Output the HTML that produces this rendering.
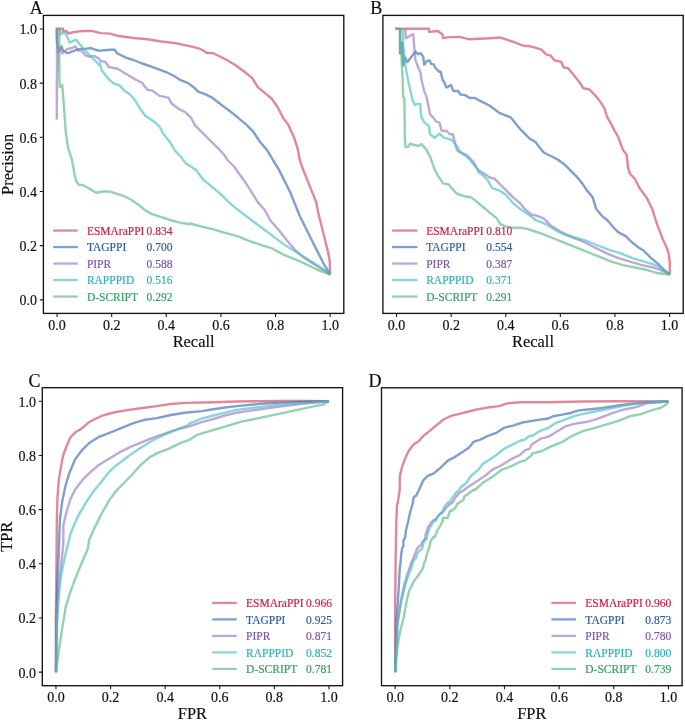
<!DOCTYPE html><html><head><meta charset="utf-8"><style>html,body{margin:0;padding:0;background:#fff;}svg{display:block;will-change:transform;}text{font-family:"Liberation Serif",serif;stroke:currentColor;stroke-width:0.18px;}</style></head><body>
<svg width="685" height="721" viewBox="0 0 685 721">
<rect x="0" y="0" width="685" height="721" fill="#fff"/>
<g fill="none" stroke-width="2.4" stroke-linejoin="round" stroke-linecap="butt">
<path d="M56.13 28.76 L63.14 28.76 L63.14 31.39 L66.64 30.95 L68.39 33.58 L72.77 32.26 L78.91 31.39 L85.04 30.95 L92.04 30.95 L95.55 31.82 L100.8 33.14 L110 33.58 L117.08 35.69 L133.43 38.03 L147.45 39.2 L161.46 41.53 L175.47 43.17 L189.49 46.2 L190 46.2 L199.34 48.54 L204.01 50.88 L206.35 52.74 L213.36 53.21 L220.36 56.72 L227.37 60.22 L236.72 66.06 L246.06 73.07 L251.9 77.74 L257.74 87.08 L264.74 92.92 L271.75 98.76 L277.59 106.93 L283.43 118.61 L288.1 124.45 L293.94 137.3 L297.45 147.81 L299.78 160 L302.12 167.01 L306.79 178.69 L311.46 190.36 L316.13 202.04 L318.47 213.72 L321.97 227.74 L325.47 241.75 L327.81 251.09 L329.68 260.44 L330.15 274.45" stroke="#cf4864" stroke-opacity="0.65"/>
<path d="M56.57 28.76 L57.01 41.9 L58.32 52.41 L61.39 46.28 L63.14 50.66 L67.52 53.28 L71.9 51.53 L76.28 49.78 L80.66 48.91 L85.04 48.91 L91.17 48.03 L95.55 49.78 L99.05 50.66 L104.31 50.22 L110 49.78 L114.74 49.71 L117.08 53.21 L126.42 57.88 L133.28 60 L142.04 63.5 L152.55 67.01 L159.56 69.64 L166.57 72.26 L173.58 75.77 L180.58 80.15 L187.59 82.77 L194.6 88.03 L198.1 91.53 L205.11 94.16 L212.12 97.66 L220 103.8 L225.04 107.64 L232.04 112.77 L239.05 118.61 L246.06 124.45 L253.07 131.46 L260.07 141.97 L267.08 150.15 L272.92 160 L278.76 169.34 L284.6 181.02 L290.44 192.7 L295.11 204.38 L299.78 216.06 L305.62 227.74 L311.46 239.42 L317.3 251.09 L323.14 262.77 L330.15 274.45" stroke="#3a6bb2" stroke-opacity="0.65"/>
<path d="M57.01 28.76 L57.01 80 L56.82 118.61 L56.82 80.07 L58.69 47.37 L62.26 53.28 L67.52 48.91 L71.9 48.03 L75.4 46.28 L78.03 50.66 L81.53 50.66 L85.04 55.04 L89.42 56.79 L93.8 55.91 L99.05 58.54 L100 60.88 L105.26 61.75 L108.76 67.01 L117.52 68.76 L126.28 74.01 L135.04 79.27 L142.04 82.77 L147.3 89.78 L152.55 90.66 L159.56 95.91 L168.32 97.66 L171.82 103.8 L178.83 109.05 L185.84 112.55 L191.09 117.81 L194.6 124.82 L199.85 130.07 L205.11 135.33 L210.36 140.58 L215.62 145.84 L220 150.22 L225.04 155.99 L227.37 160 L234.38 167.01 L240.22 175.18 L246.06 183.36 L251.9 192.7 L257.74 202.04 L264.74 210.22 L270.58 220.73 L278.76 230.07 L286.93 240.58 L295.11 249.93 L304.45 258.1 L313.8 263.94 L323.14 269.78 L330.15 274.45" stroke="#9b7bc0" stroke-opacity="0.65"/>
<path d="M59.64 28.76 L60.51 34.45 L63.14 32.7 L65.33 33.14 L67.52 37.52 L69.71 42.77 L72.77 41.02 L76.28 39.71 L78.91 43.65 L80.66 44.96 L83.28 48.91 L86.79 52.41 L90.29 55.91 L93.8 59.42 L97.3 62.92 L99.93 65.55 L100 63.5 L101.75 70.51 L108.76 79.27 L114.01 83.65 L119.27 85.4 L124.53 90.66 L129.78 94.16 L135.04 100.29 L140.29 109.05 L145.55 116.06 L152.55 120.44 L159.56 126.57 L163.07 133.58 L170.07 142.34 L175.33 151.09 L180.58 156.35 L185.84 163.36 L191.09 166.86 L196.35 170.36 L203.36 180 L206.35 182.19 L213.36 188.03 L220.36 193.87 L227.37 200.88 L236.72 209.05 L246.06 216.06 L255.4 223.07 L264.74 230.07 L274.09 237.08 L283.43 244.09 L292.77 249.93 L302.12 255.77 L311.46 261.61 L320.8 267.45 L330.15 274.45" stroke="#48c0c3" stroke-opacity="0.65"/>
<path d="M56.13 28.76 L59.2 28.76 L59.2 55.04 L59.46 80 L59.85 87.08 L62.19 84.74 L63.36 98.76 L65.69 131.46 L68.03 147.81 L71.53 158.32 L73.87 170 L73.87 171.68 L76.2 181.02 L78.54 184.53 L84.38 185.69 L90.22 189.2 L96.06 192.7 L103.07 191.53 L110.07 191.53 L117.08 193.87 L124.09 196.2 L131.09 199.71 L138.1 204.38 L145.11 210.22 L152.12 214.19 L161.46 217.23 L170.8 220.26 L180.15 222.6 L189.49 224.23 L190 223.53 L201.68 226.57 L213.36 229.37 L225.04 232.88 L236.72 235.91 L248.39 240.58 L260.07 244.55 L271.75 248.29 L283.43 254.6 L295.11 259.27 L306.79 264.64 L318.47 270.25 L330.15 274.45" stroke="#5aba82" stroke-opacity="0.65"/>
</g>
<rect x="43.4" y="15.4" width="300.4" height="298" fill="none" stroke="#131313" stroke-width="1.35"/>
<path d="M57.05 313.4 V317 M43.4 299.85 H39.8 M111.67 313.4 V317 M43.4 245.67 H39.8 M166.29 313.4 V317 M43.4 191.49 H39.8 M220.91 313.4 V317 M43.4 137.31 H39.8 M275.53 313.4 V317 M43.4 83.13 H39.8 M330.15 313.4 V317 M43.4 28.95 H39.8" stroke="#1c1c1c" stroke-width="1.1" fill="none"/>
<text x="57.05" y="329.7" font-size="14" text-anchor="middle" fill="#111" color="#111">0.0</text>
<text x="37.1" y="305.35" font-size="14" text-anchor="end" fill="#111" color="#111">0.0</text>
<text x="111.67" y="329.7" font-size="14" text-anchor="middle" fill="#111" color="#111">0.2</text>
<text x="37.1" y="251.17" font-size="14" text-anchor="end" fill="#111" color="#111">0.2</text>
<text x="166.29" y="329.7" font-size="14" text-anchor="middle" fill="#111" color="#111">0.4</text>
<text x="37.1" y="196.99" font-size="14" text-anchor="end" fill="#111" color="#111">0.4</text>
<text x="220.91" y="329.7" font-size="14" text-anchor="middle" fill="#111" color="#111">0.6</text>
<text x="37.1" y="142.81" font-size="14" text-anchor="end" fill="#111" color="#111">0.6</text>
<text x="275.53" y="329.7" font-size="14" text-anchor="middle" fill="#111" color="#111">0.8</text>
<text x="37.1" y="88.63" font-size="14" text-anchor="end" fill="#111" color="#111">0.8</text>
<text x="330.15" y="329.7" font-size="14" text-anchor="middle" fill="#111" color="#111">1.0</text>
<text x="37.1" y="34.45" font-size="14" text-anchor="end" fill="#111" color="#111">1.0</text>
<text x="193.6" y="346.6" font-size="16.4" text-anchor="middle" fill="#111" color="#111">Recall</text>
<text transform="translate(13.4 164.4) rotate(-90)" x="0" y="0" font-size="16.4" text-anchor="middle" fill="#111" color="#111">Precision</text>
<text x="29.8" y="13.6" font-size="18" fill="#111" color="#111">A</text>
<path d="M53.2 230.55 H77.7" stroke="#cf4864" stroke-opacity="0.65" stroke-width="2.3"/>
<text x="86.9" y="234.75" font-size="11.5" fill="#d31a42" color="#d31a42">ESMAraPPI</text>
<text x="146.6" y="234.75" font-size="11.5" fill="#d31a42" color="#d31a42">0.834</text>
<path d="M53.2 247.05 H77.7" stroke="#3a6bb2" stroke-opacity="0.65" stroke-width="2.3"/>
<text x="86.9" y="251.25" font-size="11.5" fill="#2a58a8" color="#2a58a8">TAGPPI</text>
<text x="146.6" y="251.25" font-size="11.5" fill="#2a58a8" color="#2a58a8">0.700</text>
<path d="M53.2 263.55 H77.7" stroke="#9b7bc0" stroke-opacity="0.65" stroke-width="2.3"/>
<text x="86.9" y="267.75" font-size="11.5" fill="#7b54ab" color="#7b54ab">PIPR</text>
<text x="146.6" y="267.75" font-size="11.5" fill="#7b54ab" color="#7b54ab">0.588</text>
<path d="M53.2 280.05 H77.7" stroke="#48c0c3" stroke-opacity="0.65" stroke-width="2.3"/>
<text x="86.9" y="284.25" font-size="11.5" fill="#2ab1ba" color="#2ab1ba">RAPPPID</text>
<text x="146.6" y="284.25" font-size="11.5" fill="#2ab1ba" color="#2ab1ba">0.516</text>
<path d="M53.2 296.55 H77.7" stroke="#5aba82" stroke-opacity="0.65" stroke-width="2.3"/>
<text x="86.9" y="300.75" font-size="11.5" fill="#30a062" color="#30a062">D-SCRIPT</text>
<text x="146.6" y="300.75" font-size="11.5" fill="#30a062" color="#30a062">0.292</text>
<g fill="none" stroke-width="2.4" stroke-linejoin="round" stroke-linecap="butt">
<path d="M395.26 28.76 L428.98 28.76 L428.98 31.82 L438.18 30.95 L439.05 32.26 L440.8 33.14 L442.55 34.45 L442.99 37.96 L450 37.08 L459.42 36.86 L468.76 39.2 L485.11 38.5 L500.29 37.56 L507.3 39.9 L515.47 42.7 L522.48 45.5 L529.49 46.2 L534.34 47.37 L541.35 49.71 L546.02 54.38 L550.69 55.55 L554.2 60.22 L561.2 61.85 L563.54 67.23 L568.21 68.39 L574.05 75.4 L578.72 81.24 L583.39 88.25 L589.23 89.42 L595.07 95.26 L599.74 101.09 L604.42 108.1 L606.75 116.28 L611.42 124.45 L614.93 131.46 L618.43 137.3 L620.77 144.31 L623.1 150.15 L626.61 154.82 L627.77 164.16 L627.77 167.01 L630.11 174.01 L634.78 178.69 L639.45 188.03 L646.46 197.37 L652.3 209.05 L655.8 220.73 L659.31 230.07 L662.81 239.42 L666.31 246.42 L668.65 253.43 L669.82 262.77 L669.82 274.45" stroke="#cf4864" stroke-opacity="0.65"/>
<path d="M400.07 28.76 L400.07 53.28 L402.26 42.77 L403.14 65.55 L404.89 57.66 L407.52 62.04 L410.15 58.54 L412.77 55.04 L415.4 51.53 L418.03 54.16 L420.66 53.28 L423.28 56.79 L424.16 64.67 L426.79 61.17 L429.42 60.29 L431.17 63.8 L433.8 64.67 L435.55 68.18 L439.05 71.68 L440.8 71.68 L442.55 80 L444.05 81.68 L446.39 87.52 L451.06 85.18 L453.39 91.02 L458.07 91.02 L460.4 94.53 L465.07 95.11 L469.74 98.03 L473.25 98.03 L475 98.03 L478.1 99.93 L489.78 105.77 L499.12 112.77 L510.8 117.45 L520.15 129.12 L529.49 138.47 L535.51 141.97 L539.01 146.64 L543.69 152.48 L550.69 155.99 L557.7 159.49 L562.37 162.99 L564.71 164.67 L571.72 171.68 L576.39 176.35 L582.23 183.36 L586.9 190.36 L592.74 197.37 L596.24 209.05 L602.08 216.06 L607.92 220.73 L613.76 227.74 L618.43 232.41 L625.44 235.91 L631.28 241.75 L637.12 246.42 L644.12 251.09 L651.13 258.1 L658.14 263.94 L663.98 269.78 L669.82 274.45" stroke="#3a6bb2" stroke-opacity="0.65"/>
<path d="M405.33 28.76 L405.77 38.39 L413.21 34.01 L414.53 49.78 L415.4 60.29 L418.91 69.05 L420.66 72.55 L421.53 80 L424.2 91.02 L426.53 96.86 L428.28 105.04 L430.04 114.38 L433.54 117.88 L435.88 121.39 L439.38 122.55 L441.72 130.73 L446.39 130.73 L449.89 134.23 L452.81 134.23 L454.56 141.24 L456.9 150 L458.25 151.31 L466.42 154.82 L473.43 161.82 L478.1 170 L482.77 172.85 L489.78 177.52 L494.45 178.69 L499.12 183.36 L506.13 190.36 L513.14 197.37 L520.15 203.21 L524.82 209.05 L531.82 214.89 L534.34 214.89 L543.69 218.39 L550.69 225.4 L560.04 231.24 L571.72 237.08 L583.39 241.75 L595.07 247.59 L606.75 253.43 L618.43 258.1 L630.11 261.61 L641.79 265.11 L653.47 267.45 L662.81 270.95 L669.82 274.45" stroke="#9b7bc0" stroke-opacity="0.65"/>
<path d="M402.7 28.76 L403.14 44.53 L404.45 55.04 L405.33 65.55 L406.64 72.55 L407.96 80 L410.18 89.85 L412.52 100.36 L414.85 105.04 L417.19 103.87 L420.11 103.87 L421.28 116.72 L424.2 122.55 L428.87 126.06 L430.04 134.23 L434.71 137.74 L439.38 133.65 L444.05 137.74 L448.72 138.91 L452.23 140.07 L455.73 144.74 L459.23 150 L460.58 152.48 L467.59 157.15 L473.43 164.16 L478.1 170 L478.1 171.68 L482.77 175.18 L487.45 179.85 L492.12 188.03 L499.12 190.36 L506.13 195.04 L513.14 203.21 L520.15 209.05 L527.15 213.72 L534.16 218.39 L534.34 219.56 L546.02 224.23 L555.36 230.07 L564.71 234.74 L574.05 237.08 L585.73 240.58 L597.41 245.26 L609.09 249.93 L620.77 253.43 L632.45 258.1 L644.12 261.61 L655.8 265.11 L662.81 269.78 L669.82 274.45" stroke="#48c0c3" stroke-opacity="0.65"/>
<path d="M395.26 28.76 L400.07 28.76 L400.07 53.28 L401.39 55.04 L402.26 72.55 L402.7 80 L403.18 96.86 L404.34 98.03 L404.93 140.07 L405.51 147.08 L407.85 147.08 L410.18 143.58 L413.69 144.74 L418.36 145.91 L421.28 144.16 L424.2 147.08 L426.53 150 L430.22 157.15 L434.89 170 L438.39 176.35 L443.07 183.36 L448.91 184.53 L452.41 189.2 L457.08 193.87 L464.09 196.2 L471.09 197.37 L475.77 200.88 L482.77 206.72 L489.78 212.55 L496.79 218.39 L500.29 224.23 L506.13 226.57 L513.14 227.74 L520.15 227.74 L527.15 228.91 L534.16 231.24 L534.34 231.24 L543.69 234.28 L553.03 238.25 L564.71 242.92 L576.39 247.59 L588.07 252.26 L599.74 256.93 L611.42 261.61 L623.1 265.11 L634.78 267.45 L646.46 269.78 L658.14 273.28 L669.82 274.45" stroke="#5aba82" stroke-opacity="0.65"/>
</g>
<rect x="382.9" y="15.4" width="300.3" height="298" fill="none" stroke="#131313" stroke-width="1.35"/>
<path d="M396.55 313.4 V317 M451.15 313.4 V317 M505.75 313.4 V317 M560.35 313.4 V317 M614.95 313.4 V317 M669.55 313.4 V317" stroke="#1c1c1c" stroke-width="1.1" fill="none"/>
<text x="396.55" y="329.7" font-size="14" text-anchor="middle" fill="#111" color="#111">0.0</text>
<text x="451.15" y="329.7" font-size="14" text-anchor="middle" fill="#111" color="#111">0.2</text>
<text x="505.75" y="329.7" font-size="14" text-anchor="middle" fill="#111" color="#111">0.4</text>
<text x="560.35" y="329.7" font-size="14" text-anchor="middle" fill="#111" color="#111">0.6</text>
<text x="614.95" y="329.7" font-size="14" text-anchor="middle" fill="#111" color="#111">0.8</text>
<text x="669.55" y="329.7" font-size="14" text-anchor="middle" fill="#111" color="#111">1.0</text>
<text x="533.05" y="346.6" font-size="16.4" text-anchor="middle" fill="#111" color="#111">Recall</text>
<text x="370.3" y="13.6" font-size="18" fill="#111" color="#111">B</text>
<path d="M392.1 230.55 H417.4" stroke="#cf4864" stroke-opacity="0.65" stroke-width="2.3"/>
<text x="426.2" y="234.75" font-size="11.5" fill="#d31a42" color="#d31a42">ESMAraPPI</text>
<text x="486.3" y="234.75" font-size="11.5" fill="#d31a42" color="#d31a42">0.810</text>
<path d="M392.1 247.05 H417.4" stroke="#3a6bb2" stroke-opacity="0.65" stroke-width="2.3"/>
<text x="426.2" y="251.25" font-size="11.5" fill="#2a58a8" color="#2a58a8">TAGPPI</text>
<text x="486.3" y="251.25" font-size="11.5" fill="#2a58a8" color="#2a58a8">0.554</text>
<path d="M392.1 263.55 H417.4" stroke="#9b7bc0" stroke-opacity="0.65" stroke-width="2.3"/>
<text x="426.2" y="267.75" font-size="11.5" fill="#7b54ab" color="#7b54ab">PIPR</text>
<text x="486.3" y="267.75" font-size="11.5" fill="#7b54ab" color="#7b54ab">0.387</text>
<path d="M392.1 280.05 H417.4" stroke="#48c0c3" stroke-opacity="0.65" stroke-width="2.3"/>
<text x="426.2" y="284.25" font-size="11.5" fill="#2ab1ba" color="#2ab1ba">RAPPPID</text>
<text x="486.3" y="284.25" font-size="11.5" fill="#2ab1ba" color="#2ab1ba">0.371</text>
<path d="M392.1 296.55 H417.4" stroke="#5aba82" stroke-opacity="0.65" stroke-width="2.3"/>
<text x="426.2" y="300.75" font-size="11.5" fill="#30a062" color="#30a062">D-SCRIPT</text>
<text x="486.3" y="300.75" font-size="11.5" fill="#30a062" color="#30a062">0.291</text>
<g fill="none" stroke-width="2.4" stroke-linejoin="round" stroke-linecap="butt">
<path d="M55.95 672.15 L55.88 623.43 L56.35 576.72 L56.82 520.15 L57.52 496.79 L58.69 480.44 L61.02 466.42 L63.36 454.74 L66.86 445.4 L70.36 437.23 L75.04 432.55 L80.88 429.05 L89.05 422.04 L100.73 416.2 L114.74 412.23 L128.76 409.9 L142.77 408.03 L156.79 406.16 L170.8 404.06 L184.82 402.89 L213.36 402.19 L236.72 401.49 L260.07 401.26 L283.43 401.02 L306.79 401.02 L328.95 401.25" stroke="#cf4864" stroke-opacity="0.65"/>
<path d="M55.95 672.15 L56.35 623.43 L57.52 576.72 L58.69 553.36 L59.85 520.15 L62.19 501.46 L65.69 485.11 L69.2 473.43 L75.04 459.42 L82.04 450.07 L89.05 443.07 L98.39 437.23 L110.07 432.55 L121.75 427.88 L133.43 423.21 L145.11 419.71 L156.79 418.07 L170.8 415.04 L184.82 412.7 L201.68 411.07 L213.36 409.2 L225.04 407.56 L236.72 406.16 L260.07 403.82 L283.43 402.66 L306.79 401.72 L328.95 401.25" stroke="#3a6bb2" stroke-opacity="0.65"/>
<path d="M55.95 672.15 L56.82 623.43 L58.69 588.39 L61.02 565.04 L63.36 544.01 L63.36 524.82 L66.86 510.8 L70.36 499.12 L75.04 489.78 L82.04 480.44 L89.05 473.43 L98.39 465.26 L107.74 459.42 L119.42 452.41 L131.09 446.57 L142.77 441.9 L154.45 437.23 L166.13 433.26 L177.81 429.05 L189.49 426.25 L201.68 422.04 L213.36 419.01 L225.04 415.5 L236.72 412.7 L260.07 409.2 L283.43 406.16 L306.79 403.36 L328.95 401.25" stroke="#9b7bc0" stroke-opacity="0.65"/>
<path d="M55.95 672.15 L57.52 611.75 L59.85 583.72 L62.19 569.71 L65.69 553.36 L69.2 539.34 L70.36 534.16 L75.04 522.48 L79.71 513.14 L86.72 501.46 L93.72 490.95 L100.73 482.77 L107.74 473.43 L114.74 466.42 L124.09 459.42 L133.43 452.41 L142.77 446.57 L152.12 440.73 L163.8 434.89 L175.47 430.22 L187.15 425.55 L190 423.21 L201.68 418.54 L213.36 415.5 L225.04 412.7 L236.72 409.9 L260.07 406.86 L283.43 404.53 L306.79 402.89 L328.95 401.25" stroke="#48c0c3" stroke-opacity="0.65"/>
<path d="M55.95 672.15 L58.69 651.46 L62.19 628.1 L65.69 607.08 L69.2 595.4 L75.04 579.05 L80.88 565.04 L87.88 548.69 L89.05 540 L93.72 529.49 L98.39 520.15 L103.07 510.8 L110.07 499.12 L117.08 489.78 L124.09 482.77 L131.09 475.77 L140.44 465.26 L149.78 457.08 L159.12 452.41 L168.47 448.91 L180.15 443.07 L190 439.56 L197.01 434.89 L208.69 431.39 L225.04 426.72 L241.39 421.58 L260.07 417.84 L278.76 413.87 L295.11 410.36 L311.46 406.86 L323.14 404.53 L328.95 401.25" stroke="#5aba82" stroke-opacity="0.65"/>
</g>
<rect x="42.3" y="387.7" width="300.3" height="298" fill="none" stroke="#131313" stroke-width="1.35"/>
<path d="M55.95 685.7 V689.3 M42.3 672.15 H38.7 M110.55 685.7 V689.3 M42.3 617.97 H38.7 M165.15 685.7 V689.3 M42.3 563.79 H38.7 M219.75 685.7 V689.3 M42.3 509.61 H38.7 M274.35 685.7 V689.3 M42.3 455.43 H38.7 M328.95 685.7 V689.3 M42.3 401.25 H38.7" stroke="#1c1c1c" stroke-width="1.1" fill="none"/>
<text x="55.95" y="702" font-size="14" text-anchor="middle" fill="#111" color="#111">0.0</text>
<text x="36" y="677.65" font-size="14" text-anchor="end" fill="#111" color="#111">0.0</text>
<text x="110.55" y="702" font-size="14" text-anchor="middle" fill="#111" color="#111">0.2</text>
<text x="36" y="623.47" font-size="14" text-anchor="end" fill="#111" color="#111">0.2</text>
<text x="165.15" y="702" font-size="14" text-anchor="middle" fill="#111" color="#111">0.4</text>
<text x="36" y="569.29" font-size="14" text-anchor="end" fill="#111" color="#111">0.4</text>
<text x="219.75" y="702" font-size="14" text-anchor="middle" fill="#111" color="#111">0.6</text>
<text x="36" y="515.11" font-size="14" text-anchor="end" fill="#111" color="#111">0.6</text>
<text x="274.35" y="702" font-size="14" text-anchor="middle" fill="#111" color="#111">0.8</text>
<text x="36" y="460.93" font-size="14" text-anchor="end" fill="#111" color="#111">0.8</text>
<text x="328.95" y="702" font-size="14" text-anchor="middle" fill="#111" color="#111">1.0</text>
<text x="36" y="406.75" font-size="14" text-anchor="end" fill="#111" color="#111">1.0</text>
<text x="192.45" y="718.9" font-size="16.4" text-anchor="middle" fill="#111" color="#111">FPR</text>
<text transform="translate(12.3 536.7) rotate(-90)" x="0" y="0" font-size="16.4" text-anchor="middle" fill="#111" color="#111">TPR</text>
<text x="28.6" y="386.6" font-size="18" fill="#111" color="#111">C</text>
<path d="M212.2 602.9 H236.7" stroke="#cf4864" stroke-opacity="0.65" stroke-width="2.3"/>
<text x="246.1" y="607.1" font-size="11.5" fill="#d31a42" color="#d31a42">ESMAraPPI</text>
<text x="306.1" y="607.1" font-size="11.5" fill="#d31a42" color="#d31a42">0.966</text>
<path d="M212.2 619.4 H236.7" stroke="#3a6bb2" stroke-opacity="0.65" stroke-width="2.3"/>
<text x="246.1" y="623.6" font-size="11.5" fill="#2a58a8" color="#2a58a8">TAGPPI</text>
<text x="306.1" y="623.6" font-size="11.5" fill="#2a58a8" color="#2a58a8">0.925</text>
<path d="M212.2 635.9 H236.7" stroke="#9b7bc0" stroke-opacity="0.65" stroke-width="2.3"/>
<text x="246.1" y="640.1" font-size="11.5" fill="#7b54ab" color="#7b54ab">PIPR</text>
<text x="306.1" y="640.1" font-size="11.5" fill="#7b54ab" color="#7b54ab">0.871</text>
<path d="M212.2 652.4 H236.7" stroke="#48c0c3" stroke-opacity="0.65" stroke-width="2.3"/>
<text x="246.1" y="656.6" font-size="11.5" fill="#2ab1ba" color="#2ab1ba">RAPPPID</text>
<text x="306.1" y="656.6" font-size="11.5" fill="#2ab1ba" color="#2ab1ba">0.852</text>
<path d="M212.2 668.9 H236.7" stroke="#5aba82" stroke-opacity="0.65" stroke-width="2.3"/>
<text x="246.1" y="673.1" font-size="11.5" fill="#30a062" color="#30a062">D-SCRIPT</text>
<text x="306.1" y="673.1" font-size="11.5" fill="#30a062" color="#30a062">0.781</text>
<g fill="none" stroke-width="2.4" stroke-linejoin="round" stroke-linecap="butt">
<path d="M395.16 672.16 L395.18 600.07 L395.58 570 L395.65 553.36 L395.93 548.39 L395.88 540 L396.17 530.88 L396.35 520.15 L396.75 513.36 L396.82 506.13 L397.92 501.68 L399.67 490 L399.85 475.77 L402.19 466.42 L405.69 457.08 L409.2 450.07 L413.87 444.23 L418.54 441.2 L423.21 436.06 L429.05 431.39 L436.06 425.55 L443.07 419.71 L450.07 416.2 L459.42 413.87 L468.76 411.53 L478.1 409.2 L487.45 407.56 L499.12 406.16 L507.3 403.36 L520.15 402.19 L548.36 402.19 L583.39 401.49 L618.43 401.26 L667.95 401.49 L668.44 401.34" stroke="#cf4864" stroke-opacity="0.65"/>
<path d="M395.16 672.16 L396.35 623.43 L398.69 588.39 L399.67 570 L401.02 558.03 L400.84 557.74 L402.01 548.39 L403.36 546.35 L403.36 540 L404.34 539.05 L405.23 537.01 L406.09 529.71 L408.43 520.36 L410.18 512.19 L412.52 504.01 L413.87 496.79 L416.02 495.84 L418.94 490 L423.21 480.44 L427.88 475.77 L433.72 473.43 L440.73 467.59 L447.74 460.58 L454.74 457.08 L461.75 452.41 L468.76 447.74 L473.43 441.9 L480.44 439.56 L487.45 436.06 L496.79 432.55 L503.8 427.88 L513.14 425.55 L522.48 422.51 L531.82 420.88 L536.68 420.18 L548.36 418.54 L553.03 416.2 L562.37 414.57 L571.72 412.7 L578.72 410.36 L590.4 409.2 L602.08 408.03 L613.76 406.16 L625.44 404.53 L637.12 403.36 L648.8 402.19 L667.95 401.49 L668.44 401.34" stroke="#3a6bb2" stroke-opacity="0.65"/>
<path d="M395.16 672.16 L397.52 623.43 L401.02 600.07 L404.53 583.72 L408.03 572.04 L409.01 570 L411.35 562.41 L412.7 560.36 L414.27 555.4 L416.2 551.02 L417.19 548.39 L422.04 544.01 L421.86 542.55 L424.38 540 L425.55 537.01 L425.36 535.55 L427.7 528.54 L427.88 527.15 L431.2 522.7 L433.72 520.15 L435.88 519.2 L440.73 513.14 L441.72 513.36 L446.39 507.52 L450.07 503.8 L452.23 502.85 L455.73 497.01 L457.08 495.62 L458.65 493.5 L463.91 490 L464.09 489.78 L471.09 485.11 L478.1 480.44 L485.11 475.77 L492.12 469.93 L501.46 465.26 L510.8 459.42 L520.15 454.74 L525 450.07 L529.49 448.91 L532.01 444.23 L541.35 438.39 L548.36 436.76 L555.36 432.55 L564.71 426.72 L574.05 423.91 L585.73 422.04 L595.07 419.71 L604.42 416.2 L613.76 412.7 L625.44 409.2 L637.12 406.86 L646.46 403.36 L658.14 402.19 L667.95 401.49 L668.44 401.34" stroke="#9b7bc0" stroke-opacity="0.65"/>
<path d="M395.16 672.16 L397.52 623.43 L401.02 602.41 L405.69 583.72 L410.36 569.71 L410.77 570 L413.69 560.07 L416.2 558.03 L417.19 553.07 L422.04 548.69 L424.2 540.22 L424.38 540 L426.72 539.34 L427.7 533.21 L429.05 529.49 L430.04 527.37 L433.54 521.53 L436.06 520.15 L437.04 516.86 L441.72 512.19 L443.07 510.8 L444.05 507.52 L447.55 502.85 L450.07 501.46 L452.23 498.18 L454.74 494.45 L455.15 493.5 L459.23 490 L460.58 487.45 L466.42 482.77 L471.09 475.77 L478.1 469.93 L482.77 464.09 L489.78 459.42 L496.79 454.74 L503.8 448.91 L510.8 445.4 L520.15 440.73 L525 439.56 L529.49 436.06 L532.01 436.06 L539.01 431.39 L548.36 427.88 L555.36 423.21 L564.71 419.71 L574.05 416.2 L583.39 413.87 L595.07 411.53 L606.75 409.2 L618.43 406.86 L630.11 404.53 L641.79 402.89 L667.95 401.49 L668.44 401.34" stroke="#48c0c3" stroke-opacity="0.65"/>
<path d="M395.16 672.16 L397.52 646.79 L399.85 632.77 L403.36 618.76 L406.86 600.07 L409.2 590.73 L413.87 581.39 L419.71 573.21 L421.86 570 L423.21 567.37 L424.2 562.41 L425.55 560.36 L426.53 555.4 L427.88 551.02 L428.87 548.39 L430.22 544.01 L430.04 542.55 L433.54 536.72 L434.89 537.01 L437.04 530.88 L440.55 525.04 L442.88 520.95 L443.07 517.81 L447.55 518.03 L450.07 510.8 L451.06 511.02 L455.73 507.52 L457.08 503.8 L459.23 502.85 L463.91 499.34 L464.09 496.79 L468.58 493.5 L473.43 489.78 L475 490 L482.77 482.77 L492.12 476.93 L501.46 469.93 L510.8 466.42 L520.15 461.75 L525 460.58 L532.01 454.74 L531.82 453.58 L541.35 451.24 L550.69 446.57 L562.37 441.9 L571.72 436.06 L583.39 430.92 L595.07 427.88 L606.75 424.38 L618.43 420.88 L630.11 416.2 L641.79 413.87 L651.13 410.36 L660.47 408.03 L666.31 404.53 L667.95 401.49 L668.44 401.34" stroke="#5aba82" stroke-opacity="0.65"/>
</g>
<rect x="381.5" y="387.8" width="300.6" height="297.9" fill="none" stroke="#131313" stroke-width="1.35"/>
<path d="M395.16 685.7 V689.3 M449.82 685.7 V689.3 M504.47 685.7 V689.3 M559.13 685.7 V689.3 M613.78 685.7 V689.3 M668.44 685.7 V689.3" stroke="#1c1c1c" stroke-width="1.1" fill="none"/>
<text x="395.16" y="702" font-size="14" text-anchor="middle" fill="#111" color="#111">0.0</text>
<text x="449.82" y="702" font-size="14" text-anchor="middle" fill="#111" color="#111">0.2</text>
<text x="504.47" y="702" font-size="14" text-anchor="middle" fill="#111" color="#111">0.4</text>
<text x="559.13" y="702" font-size="14" text-anchor="middle" fill="#111" color="#111">0.6</text>
<text x="613.78" y="702" font-size="14" text-anchor="middle" fill="#111" color="#111">0.8</text>
<text x="668.44" y="702" font-size="14" text-anchor="middle" fill="#111" color="#111">1.0</text>
<text x="531.8" y="718.9" font-size="16.4" text-anchor="middle" fill="#111" color="#111">FPR</text>
<text x="368.6" y="386.6" font-size="18" fill="#111" color="#111">D</text>
<path d="M551.4 602.9 H575.9" stroke="#cf4864" stroke-opacity="0.65" stroke-width="2.3"/>
<text x="585.3" y="607.1" font-size="11.5" fill="#d31a42" color="#d31a42">ESMAraPPI</text>
<text x="645.3" y="607.1" font-size="11.5" fill="#d31a42" color="#d31a42">0.960</text>
<path d="M551.4 619.4 H575.9" stroke="#3a6bb2" stroke-opacity="0.65" stroke-width="2.3"/>
<text x="585.3" y="623.6" font-size="11.5" fill="#2a58a8" color="#2a58a8">TAGPPI</text>
<text x="645.3" y="623.6" font-size="11.5" fill="#2a58a8" color="#2a58a8">0.873</text>
<path d="M551.4 635.9 H575.9" stroke="#9b7bc0" stroke-opacity="0.65" stroke-width="2.3"/>
<text x="585.3" y="640.1" font-size="11.5" fill="#7b54ab" color="#7b54ab">PIPR</text>
<text x="645.3" y="640.1" font-size="11.5" fill="#7b54ab" color="#7b54ab">0.780</text>
<path d="M551.4 652.4 H575.9" stroke="#48c0c3" stroke-opacity="0.65" stroke-width="2.3"/>
<text x="585.3" y="656.6" font-size="11.5" fill="#2ab1ba" color="#2ab1ba">RAPPPID</text>
<text x="645.3" y="656.6" font-size="11.5" fill="#2ab1ba" color="#2ab1ba">0.800</text>
<path d="M551.4 668.9 H575.9" stroke="#5aba82" stroke-opacity="0.65" stroke-width="2.3"/>
<text x="585.3" y="673.1" font-size="11.5" fill="#30a062" color="#30a062">D-SCRIPT</text>
<text x="645.3" y="673.1" font-size="11.5" fill="#30a062" color="#30a062">0.739</text>
</svg></body></html>
